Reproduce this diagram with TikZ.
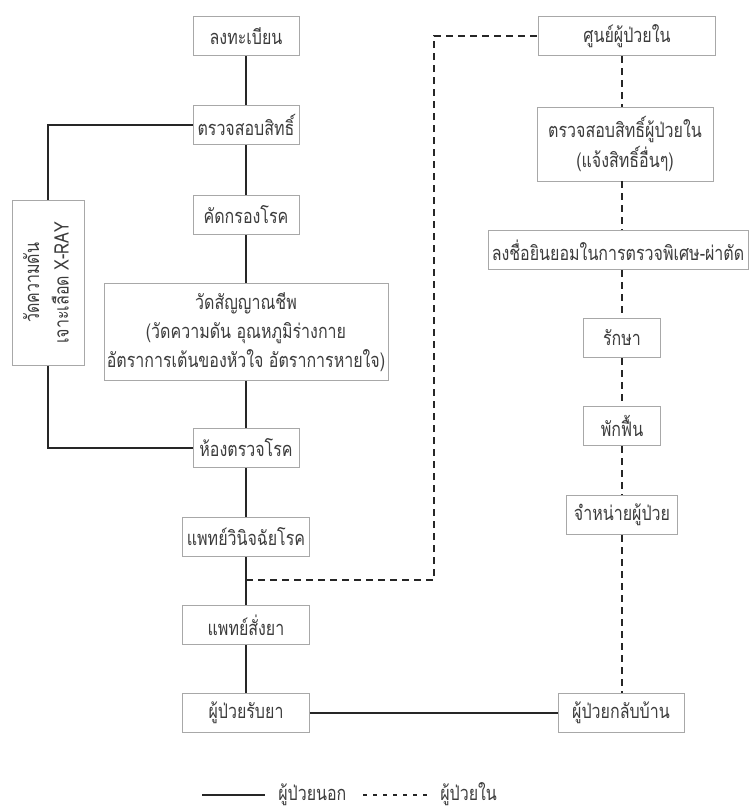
\documentclass[tikz,border=0pt]{standalone}
\usepackage{fontspec}
\newfontfamily\thaifont[Script=Thai,FakeStretch=0.8]{Loma}
\usepackage{xcolor}
\definecolor{boxgray}{HTML}{A8A8A8}
\definecolor{inkgray}{HTML}{3C3C3C}
\tikzstyle{opdline} = [thick,draw=black!85]
\tikzstyle{ipdline} = [thick,draw=black!85,dash pattern=on 5pt off 4pt]

\begin{document}
\begin{tikzpicture}
        [
            x=0.75pt, y=-0.75pt,
            box/.style={rectangle,draw=boxgray,line width=0.6pt,fill=white,text=inkgray,
                font=\thaifont\fontsize{15}{22}\selectfont,align=center,inner sep=2pt,
                minimum width=79.5pt,minimum height=29.5pt},
            legend/.style={text=inkgray,font=\thaifont\fontsize{15}{22}\selectfont,anchor=base west,inner sep=0pt},
        ]
    \useasboundingbox (0,0) rectangle (750,807);

    % outpatient column
    \node[box] (reg)  at (246,36)  {ลงทะเบียน};
    \node[box] (chk)  at (246,125) {ตรวจสอบสิทธิ์};
    \node[box] (scr)  at (246,215) {คัดกรองโรค};
    \node[box,minimum width=213pt,minimum height=72.75pt] (vit) at (246,332)
        {วัดสัญญาณชีพ\\(วัดความดัน อุณหภูมิร่างกาย\\อัตราการเต้นของหัวใจ อัตราการหายใจ)};
    \node[box,minimum width=54pt,minimum height=123.75pt] (side) at (48,283)
        {\rotatebox{90}{\begin{tabular}{@{}c@{}}วัดความดัน\\เจาะเลือด X-RAY\end{tabular}}};
    \node[box] (exam) at (246,448) {ห้องตรวจโรค};
    \node[box,minimum width=95.25pt] (diag) at (246,537) {แพทย์วินิจฉัยโรค};
    \node[box,minimum width=95.25pt] (rx)   at (246,625) {แพทย์สั่งยา};
    \node[box,minimum width=95.25pt] (recv) at (246,713) {ผู้ป่วยรับยา};

    % inpatient column
    \node[box,minimum width=132.75pt] (ipd) at (627,36) {ศูนย์ผู้ป่วยใน};
    \node[box,minimum width=132pt,minimum height=55.5pt] (ipdchk) at (625,144)
        {ตรวจสอบสิทธิ์ผู้ป่วยใน\\(แจ้งสิทธิ์อื่นๆ)};
    \node[box,minimum width=195pt] (consent) at (618,250) {ลงชื่อยินยอมในการตรวจพิเศษ-ผ่าตัด};
    \node[box,minimum width=57.75pt] (treat) at (622,338) {รักษา};
    \node[box,minimum width=57.75pt] (rest)  at (622,426) {พักฟื้น};
    \node[box,minimum width=83.25pt] (disc)  at (622,515) {จำหน่ายผู้ป่วย};
    \node[box,minimum width=94.5pt]  (home)  at (621,713) {ผู้ป่วยกลับบ้าน};

    % solid flow
    \foreach \a/\b in {reg/chk,chk/scr,scr/vit,vit/exam,exam/diag,diag/rx,rx/recv}
        \draw[opdline] (\a) -- (\b);
    \draw[opdline] (chk.west) -| (side.north);
    \draw[opdline] (side.south) |- (exam.west);
    \draw[opdline] (recv.east) -- (home.west);

    % dashed flow
    \coordinate (split) at (246,580);
    \coordinate (turn)  at (434,580);
    \draw[ipdline] (split) -- (turn) |- (ipd.west);
    \foreach \a/\b in {ipd/ipdchk,ipdchk/consent,consent/treat,treat/rest,rest/disc,disc/home}
        \draw[ipdline] (\a.south -| treat) -- (\b.north -| treat);

    % legend
    \coordinate (lgopda) at (202,795);
    \coordinate (lgopdb) at (265,795);
    \coordinate (lgipda) at (363,795);
    \coordinate (lgipdb) at (427,795);
    \node[legend] (lgopd) at (278,800) {ผู้ป่วยนอก};
    \node[legend] (lgipd) at (440,800) {ผู้ป่วยใน};
    \draw[opdline] (lgopda) -- (lgopdb);
    \draw[ipdline,dash pattern=on 3pt off 4.5pt] (lgipda) -- (lgipdb);
    \end{tikzpicture}
\end{document}
